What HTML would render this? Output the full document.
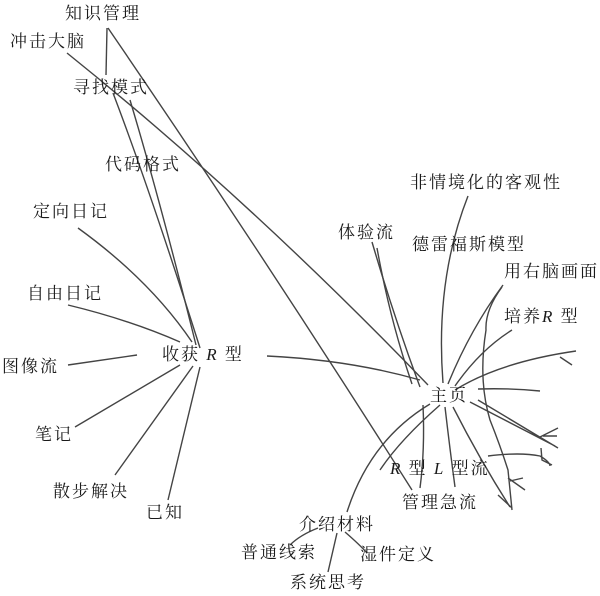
<!DOCTYPE html>
<html><head><meta charset="utf-8"><style>
html,body{margin:0;padding:0;background:#fff;}
svg{display:block}
text{font-family:"Liberation Serif","Noto Serif CJK SC","Noto Sans CJK SC",serif;font-size:17px;fill:#1a1a1a;letter-spacing:2px}
path{fill:none;stroke:#444;stroke-width:1.4}
</style></head><body>
<svg width="600" height="596" viewBox="0 0 600 596">
<path d="M107,28 L106,75"/>
<path d="M108,28 Q260,250 412,490"/>
<path d="M67,53 Q250,200 428,385"/>
<path d="M113,93 Q150,190 200,348"/>
<path d="M130,100 Q160,200 196,345"/>
<path d="M78,228 Q150,280 192,342"/>
<path d="M68,305 Q130,320 180,342"/>
<path d="M68,365 L137,355"/>
<path d="M75,427 L180,365"/>
<path d="M115,475 L193,366"/>
<path d="M168,500 L200,367"/>
<path d="M267,356 Q350,360 420,380"/>
<path d="M372,242 Q395,320 420,387"/>
<path d="M377,248 Q390,320 412,384"/>
<path d="M468,196 Q435,280 443,383"/>
<path d="M503,285 Q470,330 448,384"/>
<path d="M512,330 Q480,350 455,386"/>
<path d="M455,390 Q500,362 576,351 M560,357 L572,365"/>
<path d="M478,389 Q510,388 540,391"/>
<path d="M470,402 L555,446 M478,400 L558,448 M540,437 L558,428 M543,436 L557,436"/>
<path d="M488,456 Q520,452 540,456 Q550,462 550,466 M541,448 L542,460 L552,465"/>
<path d="M502,287 Q485,310 486,330 Q478,380 490,420 Q500,445 508,470 L512,510"/>
<path d="M510,481 L523,478 M508,478 L525,490 M498,495 L512,508"/>
<path d="M423,405 Q425,450 420,488"/>
<path d="M445,407 Q450,450 455,487"/>
<path d="M453,407 Q480,460 510,507"/>
<path d="M440,405 Q400,440 380,470"/>
<path d="M430,404 Q370,440 347,512"/>
<path d="M318,528 Q300,535 290,545"/>
<path d="M337,533 L328,572"/>
<path d="M345,532 Q360,545 367,553"/>
<text x="65" y="19">知识管理</text>
<text x="10" y="47">冲击大脑</text>
<text x="73" y="93">寻找模式</text>
<text x="105" y="170">代码格式</text>
<text x="410" y="188">非情境化的客观性</text>
<text x="33" y="217">定向日记</text>
<text x="338" y="238">体验流</text>
<text x="412" y="250">德雷福斯模型</text>
<text x="504" y="277">用右脑画面</text>
<text x="27" y="299">自由日记</text>
<text x="504" y="322">培养<tspan font-style="italic">R</tspan> 型</text>
<text x="162" y="360">收获<tspan font-style="italic"> R</tspan> 型</text>
<text x="2" y="372">图像流</text>
<text x="430" y="401">主页</text>
<text x="35" y="440">笔记</text>
<text x="390" y="474"><tspan font-style="italic">R</tspan> 型 <tspan font-style="italic">L</tspan> 型流</text>
<text x="53" y="497">散步解决</text>
<text x="402" y="508">管理急流</text>
<text x="146" y="518">已知</text>
<text x="299" y="530">介绍材料</text>
<text x="241" y="558">普通线索</text>
<text x="360" y="560">湿件定义</text>
<text x="290" y="588">系统思考</text>
</svg>
</body></html>
